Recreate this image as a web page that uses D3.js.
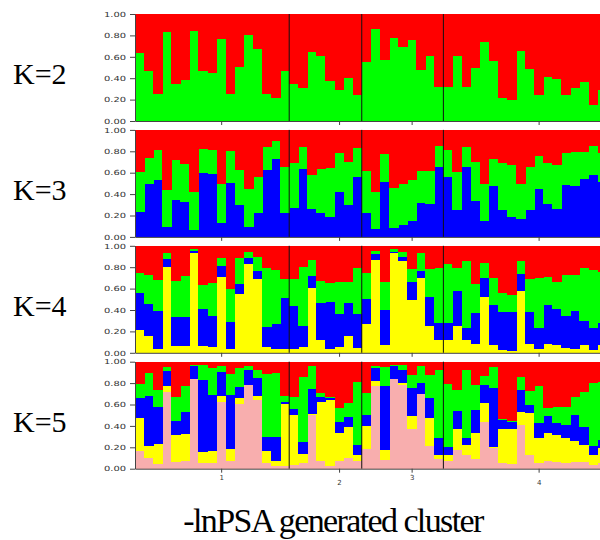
<!DOCTYPE html>
<html>
<head>
<meta charset="UTF-8">
<script src="https://d3js.org/d3.v7.min.js"></script>
<style>
    body { margin: 0; background: #fff; }
    .axis text { font-family: "DejaVu Sans", sans-serif; font-size: 7px; fill: #333; }
    .axis line { stroke: #444; }
    .axis path { stroke: #444; }
    .k-label { font-family: "Liberation Serif", serif; font-size: 30px; fill: #000; }
    .title { font-family: "Liberation Serif", serif; font-size: 34px; letter-spacing: -1.6px; fill: #000; }
</style>
</head>
<body>
<svg id="chart" width="600" height="540"></svg>
<script>
// groups of individuals (populations) and where their labels sit
const groupSizes = [17, 8, 9, 18];
const tickLabels = ["1", "2", "3", "4"];
const tickBars = [9, 22, 30, 44];
const kLabels = ["K=2", "K=3", "K=4", "K=5"];

// cumulative membership, bottom layer first
const k2Green = [0.637,0.464,0.249,0.833,0.35,0.385,0.839,0.464,0.451,0.767,0.256,0.508,0.804,0.672,0.256,0.215,0.47,
    0.344,0.306,0.644,0.603,0.375,0.293,0.40,0.24,
    0.552,0.858,0.568,0.776,0.688,0.760,0.48,0.609,0.315,
    0.315,0.612,0.315,0.50,0.741,0.565,0.218,0.192,0.653,0.486,0.246,0.41,0.388,0.24,0.312,0.363,0.148,0.293];

const k3Blue = [0.234,0.497,0.531,0.094,0.344,0.322,0.066,0.597,0.59,0.128,0.506,0.30,0.094,0.228,0.628,0.728,0.222,
    0.266,0.631,0.259,0.222,0.19,0.416,0.30,0.5625,
    0.219,0.075,0.516,0.084,0.109,0.153,0.3125,0.303,0.656,
    0.5625,0.25,0.656,0.334,0.147,0.472,0.247,0.19,0.166,0.25,0.444,0.309,0.2625,0.484,0.478,0.5375,0.575,0.516];
const k3Green = [0.609,0.741,0.816,0.4375,0.716,0.681,0.419,0.822,0.809,0.49,0.80,0.622,0.444,0.5625,0.8375,0.897,0.653,
    0.6875,0.84,0.575,0.631,0.644,0.784,0.70,0.828,
    0.616,0.42,0.775,0.453,0.49,0.531,0.619,0.6125,0.847,
    0.816,0.603,0.84,0.703,0.49,0.731,0.694,0.672,0.497,0.653,0.759,0.6875,0.672,0.78,0.79,0.794,0.853,0.78];

const k4Yellow = [0.214,0.161,0.034,0.802,0.062,0.068,0.932,0.065,0.056,0.709,0.034,0.551,0.827,0.69,0.053,0.034,0.04,
    0.037,0.053,0.604,0.115,0.031,0.053,0.16,0.046,
    0.272,0.867,0.077,0.932,0.861,0.495,0.703,0.254,0.118,
    0.115,0.251,0.118,0.084,0.517,0.077,0.025,0.015,0.579,0.084,0.037,0.084,0.071,0.046,0.031,0.071,0.022,0.077];
const k4Blue = [0.563,0.455,0.39,0.873,0.337,0.337,0.950,0.406,0.34,0.808,0.291,0.647,0.882,0.768,0.238,0.269,0.511,
    0.433,0.248,0.715,0.464,0.474,0.362,0.47,0.362,
    0.50,0.92,0.402,0.944,0.898,0.663,0.768,0.523,0.282,
    0.279,0.573,0.232,0.372,0.697,0.446,0.381,0.381,0.734,0.381,0.232,0.443,0.412,0.344,0.393,0.30,0.232,0.279];
const k4Green = [0.746,0.728,0.684,0.932,0.675,0.718,0.966,0.632,0.656,0.882,0.598,0.885,0.938,0.892,0.796,0.774,0.69,
    0.687,0.805,0.864,0.672,0.653,0.663,0.666,0.79,
    0.749,0.95,0.663,0.966,0.944,0.78,0.929,0.783,0.793,
    0.83,0.789,0.858,0.641,0.836,0.703,0.557,0.536,0.858,0.69,0.703,0.709,0.666,0.724,0.728,0.789,0.777,0.758];

const k5Pink = [0.165,0.099,0.04,0.714,0.065,0.071,0.835,0.053,0.053,0.627,0.068,0.602,0.78,0.64,0.053,0.028,0.028,
    0.034,0.05,0.5,0.075,0.025,0.075,0.1,0.068,
    0.186,0.773,0.084,0.839,0.783,0.373,0.696,0.208,0.087,
    0.068,0.177,0.13,0.093,0.441,0.193,0.053,0.047,0.41,0.13,0.053,0.068,0.059,0.053,0.059,0.062,0.037,0.05];
const k5Yellow = [0.472,0.208,0.23,0.773,0.311,0.326,0.835,0.152,0.161,0.683,0.183,0.665,0.78,0.68,0.165,0.075,0.602,
    0.503,0.14,0.512,0.621,0.646,0.335,0.394,0.13,
    0.4,0.823,0.171,0.839,0.804,0.488,0.696,0.478,0.124,
    0.13,0.373,0.217,0.329,0.612,0.199,0.373,0.373,0.534,0.519,0.286,0.332,0.317,0.286,0.255,0.224,0.13,0.19];
const k5Blue = [0.658,0.683,0.581,0.916,0.45,0.531,0.96,0.829,0.686,0.907,0.693,0.764,0.919,0.85,0.292,0.292,0.624,
    0.556,0.248,0.742,0.671,0.658,0.441,0.48,0.224,
    0.503,0.938,0.773,0.96,0.919,0.758,0.801,0.658,0.286,
    0.202,0.543,0.286,0.55,0.783,0.752,0.457,0.435,0.736,0.596,0.425,0.494,0.425,0.41,0.503,0.394,0.208,0.27];
const k5Green = [0.789,0.891,0.736,0.95,0.674,0.776,0.972,0.969,0.944,0.96,0.885,0.944,0.957,0.92,0.885,0.891,0.68,
    0.671,0.857,0.957,0.708,0.671,0.565,0.618,0.814,
    0.711,0.96,0.953,0.969,0.969,0.876,0.96,0.876,0.922,
    0.789,0.736,0.922,0.779,0.866,0.953,0.463,0.447,0.86,0.727,0.773,0.571,0.581,0.581,0.674,0.72,0.798,0.81];

const colors = { red: "#ff0000", green: "#00ff00", blue: "#0000ff", yellow: "#ffff00", pink: "#f8aeae" };

const panels = [
    { label: kLabels[0], keys: ["green", "red"], cuts: [k2Green] },
    { label: kLabels[1], keys: ["blue", "green", "red"], cuts: [k3Blue, k3Green] },
    { label: kLabels[2], keys: ["yellow", "blue", "green", "red"], cuts: [k4Yellow, k4Blue, k4Green] },
    { label: kLabels[3], keys: ["pink", "yellow", "blue", "green", "red"], cuts: [k5Pink, k5Yellow, k5Blue, k5Green] }
];

const nBars = k2Green.length;
const left = 135, barW = 9.07;
const panelH = 107, panelStep = 115.9, firstTop = 14;

const svg = d3.select("#chart");

const x = d3.scaleLinear()
    .domain([0, nBars])
    .range([left, left + nBars * barW]);

// group borders
const borders = d3.cumsum(groupSizes).slice(0, -1);

panels.forEach((p, pi) => {
    const top = firstTop + pi * panelStep;
    const y = d3.scaleLinear().domain([0, 1]).range([top + panelH, top]);

    // cumulative cuts -> proportions per cluster
    const rows = d3.range(nBars).map(i => {
        const row = {};
        let prev = 0;
        p.keys.forEach((k, j) => {
            const c = j < p.cuts.length ? p.cuts[j][i] : 1;
            row[k] = c - prev;
            prev = c;
        });
        return row;
    });

    const series = d3.stack().keys(p.keys)(rows);

    const g = svg.append("g");
    g.selectAll("g")
        .data(series)
        .join("g")
        .attr("fill", d => colors[d.key])
        .selectAll("rect")
        .data(d => d)
        .join("rect")
        .attr("shape-rendering", "crispEdges")
        .attr("x", (d, i) => x(i))
        .attr("width", (d, i) => x(i + 1) - x(i) + 0.6)
        .attr("y", d => y(d[1]))
        .attr("height", d => Math.max(0, y(d[0]) - y(d[1])));

    // population dividers
    g.selectAll(".divider")
        .data(borders)
        .join("line")
        .attr("stroke", "#111")
        .attr("stroke-width", 1)
        .attr("x1", d => x(d)).attr("x2", d => x(d))
        .attr("y1", top).attr("y2", top + panelH);

    // y axis
    const yAxis = svg.append("g")
        .attr("class", "axis")
        .attr("transform", `translate(${left},0)`)
        .call(d3.axisLeft(y)
            .tickValues([0, 0.2, 0.4, 0.6, 0.8, 1])
            .tickFormat(d3.format(".2f"))
            .tickSize(5)
            .tickSizeOuter(0)
            .tickPadding(4));
    yAxis.selectAll("text")
        .attr("textLength", 22)
        .attr("lengthAdjust", "spacingAndGlyphs");

    // x axis
    const xAxis = svg.append("g")
        .attr("class", "axis")
        .attr("transform", `translate(0,${top + panelH})`)
        .call(d3.axisBottom(x)
            .tickValues(tickBars.map(b => b + 0.5))
            .tickFormat((d, i) => pi === panels.length - 1 ? tickLabels[i] : "")
            .tickSize(4)
            .tickSizeOuter(0));
    xAxis.select(".domain").attr("stroke", "#999");
    xAxis.selectAll("text")
        .attr("dy", (d, i) => i % 2 ? "1.45em" : "0.71em")
        .attr("y", 6);

    svg.append("text")
        .attr("class", "k-label")
        .attr("x", 13)
        .attr("y", top + 70)
        .text(p.label);
});

svg.append("text")
    .attr("class", "title")
    .attr("x", 333)
    .attr("y", 532)
    .attr("text-anchor", "middle")
    .text("-lnPSA generated cluster");
</script>
</body>
</html>
